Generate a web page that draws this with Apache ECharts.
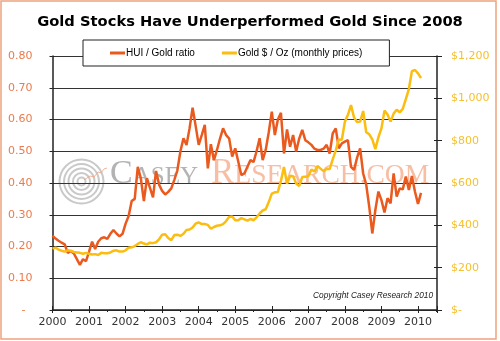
<!DOCTYPE html>
<html>
<head>
<meta charset="utf-8">
<script src="https://cdn.jsdelivr.net/npm/echarts@6/dist/echarts.min.js"></script>
<style>html,body{margin:0;padding:0;background:#fff}#c{width:500px;height:341px}</style>
</head>
<body>
<div id="c"></div>
<script>
// ---- data (monthly, Jan 2000 .. Feb 2010) ----
const startYear = 2000;
const yearTicks = [2000,2001,2002,2003,2004,2005,2006,2007,2008,2009,2010];
const huiGoldRatio = [
  0.234,0.225,0.218,0.212,0.207,0.180,0.186,0.178,0.160,0.142,0.160,0.154,
  0.184,0.215,0.192,0.215,0.226,0.229,0.224,0.240,0.252,0.241,0.232,0.240,
  0.272,0.296,0.343,0.350,0.451,0.415,0.343,0.415,0.385,0.355,0.438,0.395,
  0.375,0.364,0.372,0.383,0.410,0.440,0.500,0.541,0.520,0.572,0.637,0.580,
  0.520,0.551,0.583,0.446,0.522,0.472,0.504,0.540,0.572,0.551,0.540,0.483,
  0.509,0.467,0.425,0.430,0.451,0.472,0.466,0.500,0.541,0.472,0.504,0.560,
  0.625,0.551,0.600,0.621,0.493,0.569,0.514,0.551,0.499,0.540,0.567,0.535,
  0.528,0.520,0.508,0.504,0.504,0.508,0.520,0.493,0.556,0.572,0.509,0.525,
  0.530,0.535,0.451,0.441,0.480,0.509,0.430,0.395,0.325,0.241,0.315,0.373,
  0.346,0.307,0.352,0.336,0.430,0.357,0.383,0.380,0.420,0.378,0.422,0.373,
  0.334,0.369
];
const goldPrice = [
  290,295,285,280,276,282,280,274,272,270,266,270,
  266,262,264,260,270,268,268,272,280,282,276,276,
  282,294,296,302,312,320,314,310,318,316,320,334,
  356,358,340,330,354,356,350,360,378,380,390,408,
  414,406,406,402,384,392,398,400,406,420,440,442,
  424,424,434,428,422,430,424,438,456,470,476,510,
  550,556,558,610,676,596,634,632,598,586,628,630,
  632,664,654,680,668,656,666,666,712,754,806,804,
  890,922,968,910,888,890,940,840,830,806,760,816,
  858,942,924,890,928,946,934,950,996,1044,1128,1134,
  1118,1096
];
const seriesNames = ['HUI / Gold ratio','Gold $ / Oz (monthly prices)'];

const monthX = i => startYear + i / 12;
const huiData = huiGoldRatio.map((v,i)=>[monthX(i), v]);
const goldData = goldPrice.map((v,i)=>[monthX(i), v]);

const ORANGE = '#ea5a1f', GOLD = '#fbbd10';
const xMin = 2000, xMax = 2010.52;

const chart = echarts.init(document.getElementById('c'), null, {renderer:'canvas'});
const rings = [[21,23],[16.5,18.5],[12,14],[7.5,9.5],[3,5]].map(r=>({
  type:'ring', shape:{cx:81.5, cy:181.5, r:r[1], r0:r[0]},
  style:{fill:'#9c9c9c', opacity:0.55}, silent:true, z:-1
}));
chart.setOption({
  animation:false,
  title:{text:'Gold Stocks Have Underperformed Gold Since 2008', left:'center', top:10,
    textStyle:{fontFamily:'DejaVu Sans', fontWeight:'bold', fontSize:14.7, color:'#000'}},
  legend:{left:83, top:40, padding:[8,27,8,27], itemGap:27, itemWidth:15, itemHeight:3,
    icon:'rect', backgroundColor:'#fff', borderColor:'#222', borderWidth:1, borderRadius:0,
    textStyle:{fontFamily:'Liberation Sans', fontSize:10, color:'#000', padding:[0,0,0,-4]},
    data:seriesNames, z:10},
  grid:{left:52.5, right:63, top:56, bottom:31, containLabel:false},
  graphic:[
    {type:'rect', shape:{x:1, y:1, width:495, height:338}, style:{fill:'none', stroke:'#f0a27e', lineWidth:1.5}, silent:true},
    ...rings,
    {type:'polyline', shape:{points:[[84,180],[90,176],[94,177],[98,172],[101,173],[104,169],[107,168]]},
      style:{stroke:'#f5a07c', lineWidth:1, fill:'none', opacity:0.8}, silent:true, z:-1},
    {type:'text', x:110, y:191, silent:true, z:-1,
      style:{text:'{a|C}{b|ASEY}', textVerticalAlign:'bottom', opacity:0.75,
        rich:{a:{fontFamily:'Liberation Serif', fontSize:34, fill:'#9a9a9a', verticalAlign:'bottom'},
              b:{fontFamily:'Liberation Serif', fontSize:25, fill:'#9a9a9a', verticalAlign:'bottom', padding:[0,0,1,0]}}}},
    {type:'text', x:211, y:191, silent:true, z:-1,
      style:{text:'{a|R}{b|ESEARCH.COM}', textVerticalAlign:'bottom', opacity:0.75,
        rich:{a:{fontFamily:'Liberation Serif', fontSize:35, fill:'#f4a886', verticalAlign:'bottom'},
              b:{fontFamily:'Liberation Serif', fontSize:27.5, fill:'#f4a886', verticalAlign:'bottom', padding:[0,0,1,0]}}}},
    {type:'text', x:433, y:296, silent:true,
      style:{text:'Copyright Casey Research 2010', textAlign:'right', textVerticalAlign:'middle',
        fontFamily:'Liberation Sans', fontStyle:'italic', fontSize:8.3, fill:'#222'}}
  ],
  xAxis:[
    {type:'value', min:xMin, max:xMax, interval:1,
     axisLine:{lineStyle:{color:'#222', width:1.5}},
     axisTick:{show:true, length:3, lineStyle:{color:'#222', width:1}},
     minorTick:{show:true, splitNumber:2, length:2, lineStyle:{color:'#222'}},
     splitLine:{show:false}, minorSplitLine:{show:false},
     axisLabel:{margin:7, color:'#333', fontFamily:'DejaVu Sans', fontSize:11,
       formatter:v=> yearTicks.indexOf(Math.round(v))>=0 && Math.abs(v-Math.round(v))<1e-6 ? String(Math.round(v)) : '',
       showMaxLabel:false}},
    {type:'value', min:xMin, max:xMax, interval:1, position:'bottom',
     axisLine:{show:false}, axisTick:{show:true, inside:true, length:4, lineStyle:{color:'#222'}},
     axisLabel:{show:false}, splitLine:{show:false}}
  ],
  yAxis:[
    {type:'value', min:0, max:0.8, interval:0.1, position:'left',
     axisLine:{show:true, lineStyle:{color:'#222', width:1.5}},
     axisTick:{show:true, length:3, lineStyle:{color:'#222'}},
     splitLine:{show:true, lineStyle:{color:'#333', width:1}},
     axisLabel:{margin:20, color:'#ec7a4c', fontFamily:'DejaVu Sans', fontSize:11,
       formatter:v=> v===0 ? '-\u2007' : v.toFixed(2)}},
    {type:'value', min:0, max:1200, interval:200, position:'right',
     axisLine:{show:true, lineStyle:{color:'#222', width:1.5}},
     axisTick:{show:true, length:5, lineStyle:{color:'#222'}},
     splitLine:{show:false},
     axisLabel:{margin:14, color:'#f5c12e', fontFamily:'DejaVu Sans', fontSize:11,
       formatter:v=> v===0 ? '$-' : '$' + v.toLocaleString('en-US')}},
    {type:'value', min:0, max:1200, interval:200, position:'right',
     axisLine:{show:false}, axisTick:{show:true, inside:true, length:3, lineStyle:{color:'#222'}},
     axisLabel:{show:false}, splitLine:{show:false}}
  ],
  series:[
    {name:seriesNames[0], type:'line', xAxisIndex:0, yAxisIndex:0, data:huiData,
     showSymbol:false, symbol:'none', lineStyle:{color:ORANGE, width:2.5}, itemStyle:{color:ORANGE}, z:3},
    {name:seriesNames[1], type:'line', xAxisIndex:0, yAxisIndex:1, data:goldData,
     showSymbol:false, symbol:'none', lineStyle:{color:GOLD, width:2.5}, itemStyle:{color:GOLD}, z:4}
  ]
});
</script>
</body>
</html>
